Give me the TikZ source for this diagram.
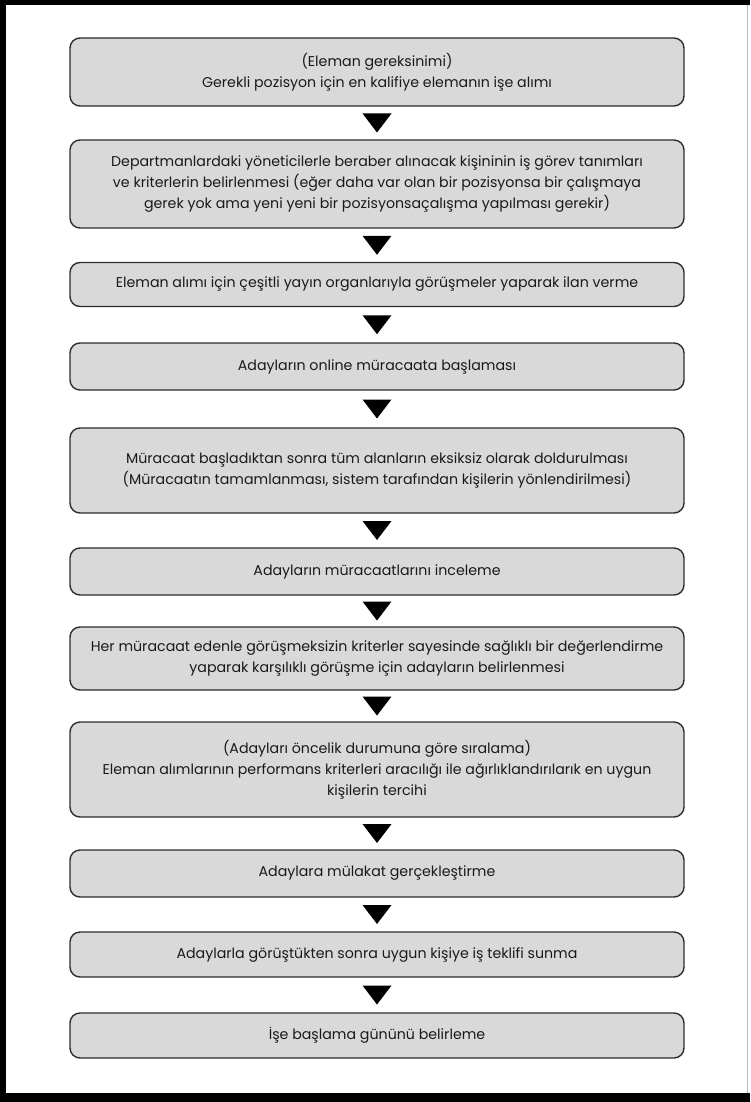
\documentclass[tikz,border=0pt]{standalone}
\usepackage{fontspec}
\setmainfont{Poppins}
\usetikzlibrary{calc}
\definecolor{boxfill}{HTML}{D9D9D9}
\definecolor{boxline}{HTML}{2E2E2E}
\definecolor{textcol}{HTML}{1A1A1A}
\begin{document}
\begin{tikzpicture}[x=1pt,y=-1pt,
  stepbox/.style={draw=boxline, line width=1.4pt, fill=boxfill,
    rounded corners=10pt, minimum width=614pt, inner sep=0pt,
    align=center, text=textcol, font=\fontsize{14.2}{21}\selectfont},
  tri/.style={fill=black}]
% page and frame
\useasboundingbox (0,0) rectangle (750,1102);
\fill[white] (0,0) rectangle (750,1102);
\fill[black] (0,0) rectangle (750,5);
\fill[black] (0,0) rectangle (6,1102);
\fill[black] (0,1093) rectangle (750,1102);
\draw[gray!55, line width=1.2pt] (747.4,5) -- (747.4,1093);

% process steps
\node[stepbox, minimum height=68pt] (b1) at (377,72)
  {(Eleman gereksinimi)\\Gerekli pozisyon için en kalifiye elemanın işe alımı};
\node[stepbox, minimum height=88pt] (b2) at (377,184)
  {Departmanlardaki yöneticilerle beraber alınacak kişininin iş görev tanımları\\
   ve kriterlerin belirlenmesi (eğer daha var olan bir pozisyonsa bir çalışmaya\\
   gerek yok ama yeni yeni bir pozisyonsaçalışma yapılması gerekir)};
\node[stepbox, minimum height=44pt] (b3) at (377,284.5)
  {Eleman alımı için çeşitli yayın organlarıyla görüşmeler yaparak ilan verme};
\node[stepbox, minimum height=47pt] (b4) at (377,366.5)
  {Adayların online müracaata başlaması};
\node[stepbox, minimum height=85pt] (b5) at (377,470.5)
  {Müracaat başladıktan sonra tüm alanların eksiksiz olarak doldurulması\\
   (Müracaatın tamamlanması, sistem tarafından kişilerin yönlendirilmesi)};
\node[stepbox, minimum height=47pt] (b6) at (377,571.5)
  {Adayların müracaatlarını inceleme};
\node[stepbox, minimum height=63pt] (b7) at (377,658.5)
  {Her müracaat edenle görüşmeksizin kriterler sayesinde sağlıklı bir değerlendirme\\
   yaparak karşılıklı görüşme için adayların belirlenmesi};
\node[stepbox, minimum height=95pt] (b8) at (377,769.5)
  {(Adayları öncelik durumuna göre sıralama)\\
   Eleman alımlarının performans kriterleri aracılığı ile ağırlıklandırılarık en uygun\\
   kişilerin tercihi};
\node[stepbox, minimum height=47pt] (b9) at (377,873.5)
  {Adaylara mülakat gerçekleştirme};
\node[stepbox, minimum height=45pt] (b10) at (377,954.5)
  {Adaylarla görüştükten sonra uygun kişiye iş teklifi sunma};
\node[stepbox, minimum height=45pt] (b11) at (377,1035.5)
  {İşe başlama gününü belirleme};

% downward triangles between consecutive steps
\foreach \a/\b in {b1/b2,b2/b3,b3/b4,b4/b5,b5/b6,b6/b7,b7/b8,b8/b9,b9/b10,b10/b11}{
  \path (\a.south) -- (\b.north) coordinate[midway] (m-\a);
  \fill[tri] ($(m-\a)+(-14.5,-9.5)$) -- ($(m-\a)+(14.5,-9.5)$)
    -- ($(m-\a)+(0,9.5)$) -- cycle;
}
\end{tikzpicture}
\end{document}
